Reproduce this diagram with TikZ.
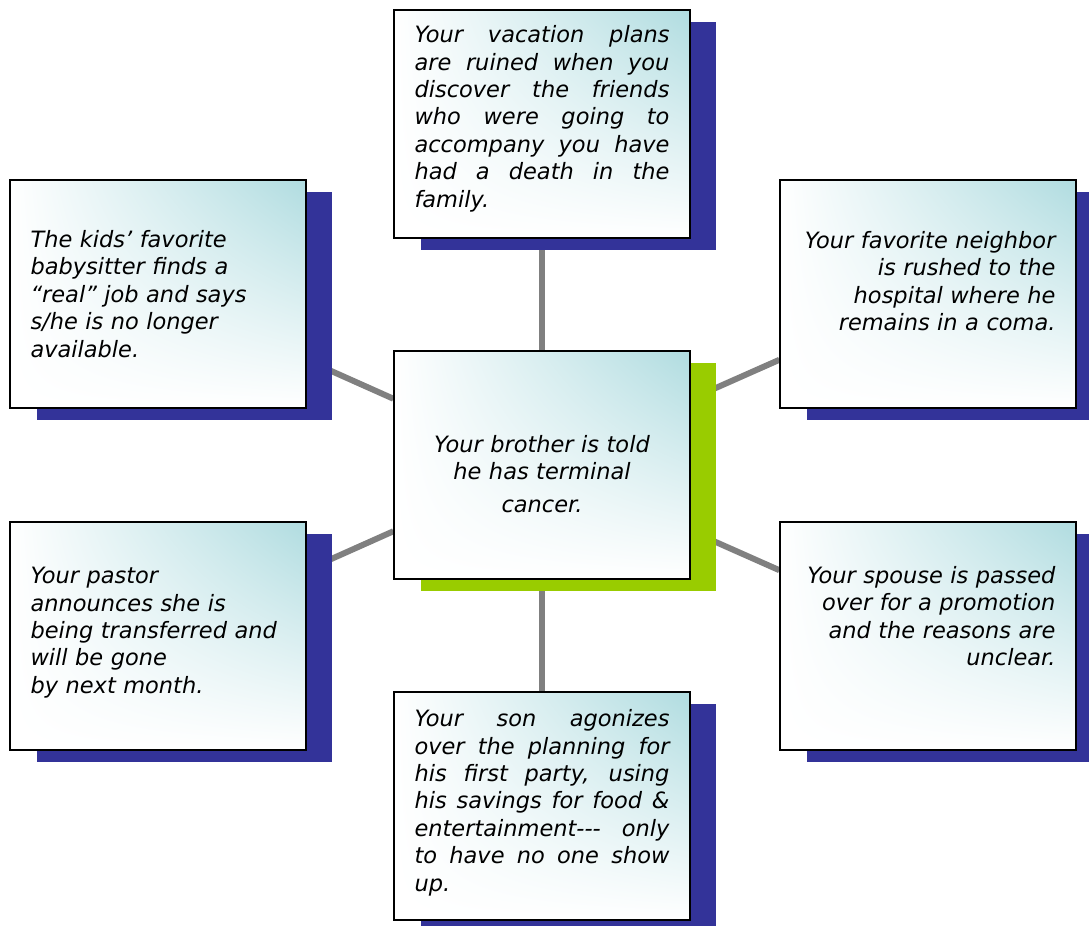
\documentclass[tikz,border=0pt]{standalone}
\usepackage{fontspec}
\setmainfont{DejaVu Sans}
\usetikzlibrary{shadings,shadows,backgrounds}
\definecolor{navyshadow}{RGB}{51,51,153}
\definecolor{limeshadow}{RGB}{153,204,0}
\definecolor{paleteal}{RGB}{176,220,224}
\definecolor{linkgray}{RGB}{128,128,128}
\hbadness=10000
\begin{document}
\begin{tikzpicture}[x=0.02cm,y=-0.02cm,
	card/.style={draw=black,line width=0.8pt,minimum width=5.92cm,minimum height=4.56cm,
		inner sep=0pt,text width=5.1cm,
		shade,upper right=paleteal,upper left=white,lower left=white,lower right=white,
		font=\fontsize{12.8}{15.6}\selectfont\itshape,
		general shadow={shadow xshift=0.53cm,shadow yshift=-0.24cm,fill=#1}},
	card/.default=navyshadow,
	link/.style={draw=linkgray,line width=3.4pt}]
	\path[use as bounding box,clip] (0,0) rectangle (1089,926);
	% centre of the map
	\node[card=limeshadow,align=center] (brother) at (542,465)
		{\rule{0pt}{20pt}Your brother is told\\ he has terminal\\[3.4pt] cancer.};
	% surrounding events
	\node[card,align=justify] (vacation) at (542,124)
		{Your vacation plans\linebreak are ruined when you\linebreak discover the friends\linebreak
		who were going to\linebreak accompany you have\linebreak had a death in the\linebreak family.\rule[-8.7pt]{0pt}{8.7pt}};
	\node[card,align=left] (babysitter) at (158,294)
		{The kids’ favorite\\ babysitter finds a\\ “real” job and says\\ s/he is no longer\\ available.};
	\node[card,align=right] (neighbor) at (928,294)
		{Your favorite neighbor\\ is rushed to the\\ hospital where he\\ remains in a coma.\rule[-14.7pt]{0pt}{14.7pt}};
	\node[card,align=left] (pastor) at (158,636)
		{Your pastor\\ announces she is\\ being transferred and\\ will be gone\\ by next month.\rule[-6.4pt]{0pt}{6.4pt}};
	\node[card,align=right] (spouse) at (928,636)
		{Your spouse is passed\\ over for a promotion\\ and the reasons are\\ unclear.\rule[-22.7pt]{0pt}{22.7pt}};
	\node[card,align=justify] (son) at (542,806)
		{Your son agonizes\linebreak over the planning for\linebreak his first party, using\linebreak
		his savings for food \&\linebreak entertainment{-}{-}{-} only\linebreak to have no one show\linebreak up.\rule[-6.4pt]{0pt}{6.4pt}};
	% connectors behind the cards
	\begin{scope}[on background layer]
		\foreach \outer in {vacation,babysitter,neighbor,pastor,spouse,son}
			\draw[link] (brother) -- (\outer);
	\end{scope}
\end{tikzpicture}
\end{document}
